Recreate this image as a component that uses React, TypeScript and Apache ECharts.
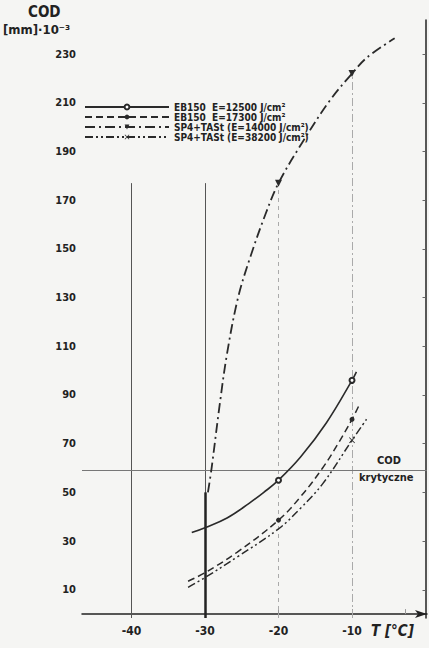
import React, { useEffect, useRef } from "react";
import * as echarts from "echarts";

const xTicks = [-40, -30, -20, -10];
const yTicks = [10, 30, 50, 70, 90, 110, 130, 150, 170, 190, 210, 230];

// EB150 E=12500 (solid, open circle)
const ebAT = [-31.8, -30, -27, -24, -22, -20, -17, -13.5, -10, -9.4];
const ebACOD = [33.5, 35.5, 39.5, 45.5, 50, 55, 64.5, 78.5, 96, 99.5];
const ebAMarks = [-20, -10];

// EB150 E=17300 (dashed, filled circle)
const ebBT = [-32.3, -30, -25.6, -20, -17, -14, -12, -10, -9];
const ebBCOD = [13.5, 17, 25.5, 38.6, 48.2, 60, 69.5, 80, 86];
const ebBMarks = [-20, -10];

// SP4+TASt E=14000 (dash-dot, triangle)
const spAT = [-29.6, -29.1, -28, -27, -25.5, -23.8, -21.8, -20, -16.7, -13, -10, -8, -4.2];
const spACOD = [50, 60, 86, 107, 130, 147, 164, 177, 194, 211, 222, 228.5, 236.5];
const spAMarks = [-20, -10];

// SP4+TASt E=38200 (dash-dot-dot, x)
const spBT = [-32.3, -30, -25.6, -20, -17, -14, -10, -7.8];
const spBCOD = [11, 15, 23.5, 35, 43.5, 53.5, 71.4, 81];
const spBMarks = [-10];

const codCritical = 59;
const seriesNames = [
  "EB150  E=12500 J/cm²",
  "EB150  E=17300 J/cm²",
  "SP4+TASt (E=14000 J/cm²)",
  "SP4+TASt (E=38200 J/cm²)",
];

const FONT = '"DejaVu Sans Condensed", "Liberation Sans Narrow", "DejaVu Sans", sans-serif';
const INK = "#222";

function build(ts: number[], cods: number[], marks: number[]) {
  return ts.map((t, i) =>
    marks.includes(t) ? { value: [t, cods[i]] } : { value: [t, cods[i]], symbol: "none" }
  );
}

const X_MIN = -46.73;
const X_MAX = 0.2;

export default function App() {
  const ref = useRef<HTMLDivElement>(null);
  useEffect(() => {
    const chart = echarts.init(ref.current!, null, { renderer: "svg" });
    const xMark = "path://M0,1L1,0L5,4L9,0L10,1L6,5L10,9L9,10L5,6L1,10L0,9L4,5Z";
    chart.setOption({
      animation: false,
      backgroundColor: "#f5f5f3",
      grid: { left: 82, right: 2, top: 20, bottom: 30 },
      xAxis: {
        type: "value",
        min: X_MIN,
        max: X_MAX,
        axisLine: {
          show: true,
          symbol: ["none", "arrow"],
          symbolSize: [6, 12],
          lineStyle: { color: INK, width: 1.5 },
        },
        axisTick: {
          show: true,
          customValues: [-20, -10, -2.7],
          inside: true,
          length: 5,
          lineStyle: { color: "#999", width: 1 },
        },
        axisLabel: {
          customValues: xTicks,
          formatter: (v: number) => String(v),
          margin: 7,
          fontSize: 12,
          fontWeight: "bold",
          color: INK,
          fontFamily: FONT,
        },
        splitLine: { show: false },
      },
      yAxis: {
        type: "value",
        min: -1.6,
        max: 244,
        axisLine: { show: true, lineStyle: { color: INK, width: 1.5 } },
        axisTick: {
          show: true,
          customValues: yTicks,
          length: 3,
          lineStyle: { color: "#666" },
        },
        axisLabel: {
          customValues: yTicks,
          margin: 6,
          fontSize: 11,
          fontWeight: "bold",
          color: INK,
          fontFamily: FONT,
        },
        splitLine: { show: false },
      },
      legend: {
        orient: "vertical",
        left: 84,
        top: 102,
        padding: 0,
        itemGap: 0,
        itemWidth: 84,
        itemHeight: 6,
        data: seriesNames,
        textStyle: {
          fontSize: 10,
          fontWeight: "bold",
          lineHeight: 9,
          color: INK,
          fontFamily: FONT,
        },
      },
      series: [
        {
          name: seriesNames[0],
          type: "line",
          smooth: 0.4,
          symbol: "emptyCircle",
          symbolSize: 5,
          data: build(ebAT, ebACOD, ebAMarks),
          lineStyle: { color: "#2a2a2a", width: 1.6, type: "solid" },
          itemStyle: { color: "#2a2a2a", borderColor: "#2a2a2a" },
          z: 5,
          markLine: {
            silent: true,
            symbol: ["none", "none"],
            label: { show: false },
            data: [
              [
                { coord: [-40, -1.6], lineStyle: { color: "#555", width: 1, type: "solid" } },
                { coord: [-40, 177] },
              ],
              [
                { coord: [-30, -1.6], lineStyle: { color: "#555", width: 1, type: "solid" } },
                { coord: [-30, 177] },
              ],
              [
                { coord: [-30, -1.6], lineStyle: { color: "#222", width: 2.5, type: "solid" } },
                { coord: [-30, 50] },
              ],
              [
                { coord: [-20, -1.6], lineStyle: { color: "#aaa", width: 1, type: [4, 4] } },
                { coord: [-20, 177] },
              ],
              [
                { coord: [-10, -1.6], lineStyle: { color: "#aaa", width: 1, type: [8, 3, 2, 3] } },
                { coord: [-10, 222] },
              ],
              [
                { coord: [X_MIN, codCritical], lineStyle: { color: "#777", width: 1.2, type: "solid" } },
                { coord: [X_MAX, codCritical] },
              ],
            ],
          },
        },
        {
          name: seriesNames[1],
          type: "line",
          smooth: 0.4,
          symbol: "circle",
          symbolSize: 5,
          data: build(ebBT, ebBCOD, ebBMarks),
          lineStyle: { color: "#2a2a2a", width: 1.5, type: [7, 4] },
          itemStyle: { color: "#2a2a2a" },
          z: 5,
        },
        {
          name: seriesNames[2],
          type: "line",
          smooth: 0.35,
          symbol: "triangle",
          symbolRotate: 180,
          symbolSize: 7,
          data: build(spAT, spACOD, spAMarks),
          lineStyle: { color: "#2a2a2a", width: 1.8, type: [10, 4, 2, 4] },
          itemStyle: { color: "#2a2a2a" },
          z: 5,
        },
        {
          name: seriesNames[3],
          type: "line",
          smooth: 0.4,
          symbol: xMark,
          symbolSize: 6,
          data: build(spBT, spBCOD, spBMarks),
          lineStyle: { color: "#2a2a2a", width: 1.5, type: [8, 3, 2, 3, 2, 3] },
          itemStyle: { color: "#2a2a2a" },
          z: 5,
        },
      ],
      graphic: [
        {
          type: "text",
          left: 28,
          top: 4,
          style: { text: "COD", fontSize: 15, fontWeight: "bold", fill: INK, fontFamily: FONT },
        },
        {
          type: "text",
          left: 3,
          top: 23,
          style: { text: "[mm]·10⁻³", fontSize: 13, fontWeight: "bold", fill: INK, fontFamily: FONT },
        },
        {
          type: "text",
          left: 371,
          top: 623,
          style: { text: "T [°C]", fontSize: 15, fontWeight: "bold", fontStyle: "italic", fill: INK, fontFamily: FONT },
        },
        {
          type: "text",
          left: 377,
          top: 455,
          style: { text: "COD", fontSize: 11, fontWeight: "bold", fill: INK, fontFamily: FONT },
        },
        {
          type: "text",
          left: 359,
          top: 472,
          style: { text: "krytyczne", fontSize: 11, fontWeight: "bold", fill: INK, fontFamily: FONT },
        },
      ],
    });
    return () => chart.dispose();
  }, []);
  return (
    <div
      ref={ref}
      style={{ position: "fixed", left: 0, top: 0, width: 429, height: 648, background: "#f5f5f3" }}
    />
  );
}
